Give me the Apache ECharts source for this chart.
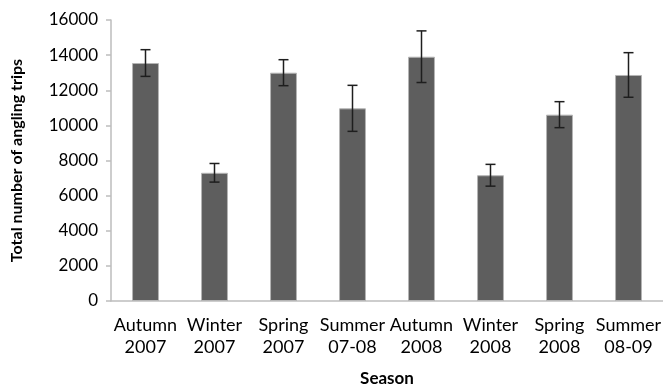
<!DOCTYPE html>
<html>
<head>
<meta charset="utf-8">
<script src="https://cdn.jsdelivr.net/npm/echarts@6/dist/echarts.min.js"></script>
<style>
  html, body { margin: 0; padding: 0; background: #fff; }
  #chart { width: 663px; height: 388px; }
</style>
</head>
<body>
<div id="chart"></div>
<script>
// Seasons surveyed
const seasons = ['Autumn\n2007', 'Winter\n2007', 'Spring\n2007', 'Summer\n07-08',
                 'Autumn\n2008', 'Winter\n2008', 'Spring\n2008', 'Summer\n08-09'];
// Estimated total angling trips per season
const trips = [13550, 7300, 13000, 10970, 13910, 7160, 10610, 12870];
// Half-width of the error bar (± value)
const tripsErr = [760, 530, 740, 1310, 1470, 620, 740, 1270];
// Y axis tick range
const yMin = 0, yMax = 16000, yStep = 2000;

const errData = trips.map((v, i) => [i, v - tripsErr[i], v + tripsErr[i]]);

const font = 'Lato, "Open Sans", sans-serif';
const chart = echarts.init(document.getElementById('chart'), null, { renderer: 'canvas' });

chart.setOption({
  animation: false,
  grid: { left: 111, right: 0, top: 20, bottom: 87, containLabel: false, outerBoundsMode: 'none' },
  xAxis: {
    type: 'category',
    data: seasons,
    name: 'Season',
    nameLocation: 'middle',
    nameGap: 69,
    nameTextStyle: { fontFamily: font, fontSize: 17, fontWeight: 'bold', color: '#000' },
    axisLine: { lineStyle: { color: '#bdbdbd', width: 1.5 } },
    axisTick: { show: false },
    axisLabel: { fontFamily: font, fontSize: 18, color: '#000', margin: 13, lineHeight: 22, interval: 0 }
  },
  yAxis: {
    type: 'value',
    min: yMin, max: yMax, interval: yStep,
    name: 'Total number of angling trips',
    nameLocation: 'middle',
    nameGap: 86,
    nameRotate: 90,
    nameTextStyle: { fontFamily: font, fontSize: 16, fontWeight: 'bold', color: '#000' },
    axisLine: { show: true, lineStyle: { color: '#bdbdbd', width: 1.5 } },
    axisTick: { show: true, inside: false, length: 5, lineStyle: { color: '#bdbdbd', width: 1.5 } },
    axisLabel: { fontFamily: font, fontSize: 17, color: '#000', margin: 13, formatter: v => String(v) },
    splitLine: { show: false }
  },
  series: [
    {
      type: 'bar',
      data: trips,
      barWidth: '39%',
      itemStyle: { color: '#5e5e5e', borderColor: '#b5b5b5', borderWidth: 1 }
    },
    {
      type: 'custom',
      data: errData,
      z: 10,
      renderItem: function (params, api) {
        const x = api.value(0);
        const lo = api.coord([x, api.value(1)]);
        const hi = api.coord([x, api.value(2)]);
        const cap = 5;
        const style = { stroke: '#1e1e1e', lineWidth: 1.5 };
        return {
          type: 'group',
          children: [
            { type: 'line', shape: { x1: hi[0], y1: hi[1], x2: lo[0], y2: lo[1] }, style },
            { type: 'line', shape: { x1: hi[0] - cap, y1: hi[1], x2: hi[0] + cap, y2: hi[1] }, style },
            { type: 'line', shape: { x1: lo[0] - cap, y1: lo[1], x2: lo[0] + cap, y2: lo[1] }, style }
          ]
        };
      }
    }
  ]
});
</script>
</body>
</html>
